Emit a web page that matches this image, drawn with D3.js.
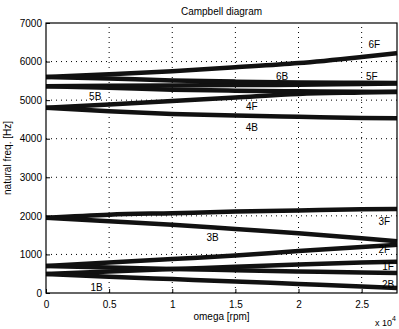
<!DOCTYPE html>
<html>
<head>
<meta charset="utf-8">
<script src="https://cdn.jsdelivr.net/npm/d3@7"></script>
<style>
  body { margin: 0; background: #fff; }
  svg { display: block; font-family: "Liberation Sans", Arial, sans-serif; }
  .grid line { stroke: #000; stroke-dasharray: 1,4; stroke-width: 1; }
  .tick text { font-size: 10px; fill: #000; }
</style>
</head>
<body>
<div id="chart"></div>
<script>
// rotor speed samples [rpm]
const omega = [0, 5000, 10000, 15000, 20000, 25000, 27800];

// natural frequencies per whirl mode [Hz]
const mode1F = [490, 560, 620, 680, 740, 790, 810];
const mode1B = [700, 660, 620, 590, 560, 530, 520];
const mode2F = [700, 790, 880, 970, 1090, 1190, 1250];
const mode2B = [490, 420, 360, 300, 235, 170, 130];
const mode3F = [1950, 2030, 2070, 2110, 2140, 2170, 2180];
const mode3B = [1950, 1860, 1770, 1660, 1550, 1420, 1340];
const mode4F = [4800, 4890, 4980, 5070, 5160, 5200, 5220];
const mode4B = [4800, 4710, 4640, 4600, 4570, 4540, 4530];
const mode5F = [5360, 5370, 5380, 5390, 5400, 5420, 5430];
const mode5B = [5360, 5320, 5270, 5245, 5230, 5215, 5210];
const mode6F = [5600, 5670, 5750, 5850, 5960, 6120, 6220];
const mode6B = [5600, 5560, 5510, 5480, 5460, 5450, 5445];

const series = [mode1F, mode1B, mode2F, mode2B, mode3F, mode3B,
                mode4F, mode4B, mode5F, mode5B, mode6F, mode6B];

// curve labels: text, omega, freq
const labelText = ["6F", "6B", "5F", "5B", "4F", "4B", "3F", "3B", "2F", "1F", "2B", "1B"];
const labelX = [26000, 18700, 25800, 3900, 16300, 16300, 26800, 13200, 26800, 27100, 27100, 4000];
const labelY = [6420, 5600, 5600, 5080, 4820, 4270, 1840, 1420, 1110, 670, 200, 130];

const xTicks = [0, 5000, 10000, 15000, 20000, 25000];
const yTicks = [0, 1000, 2000, 3000, 4000, 5000, 6000, 7000];

const width = 399, height = 329;
const margin = { top: 23, right: 2, bottom: 36, left: 46 };

const svg = d3.select("#chart").append("svg")
  .attr("width", width)
  .attr("height", height);

const x = d3.scaleLinear().domain([0, 27800]).range([margin.left, width - margin.right]);
const y = d3.scaleLinear().domain([0, 7000]).range([height - margin.bottom, margin.top]);

// dotted grid
const grid = svg.append("g").attr("class", "grid");
grid.selectAll(".gx").data(xTicks.slice(1)).enter().append("line")
  .attr("x1", d => x(d)).attr("x2", d => x(d))
  .attr("y1", y(0)).attr("y2", y(7000));
grid.selectAll(".gy").data(yTicks.slice(1, -1)).enter().append("line")
  .attr("x1", x(0)).attr("x2", x(27800))
  .attr("y1", d => y(d)).attr("y2", d => y(d));

// curves
const line = d3.line()
  .x((d, i) => x(omega[i]))
  .y(d => y(d))
  .curve(d3.curveMonotoneX);

svg.append("g").selectAll("path").data(series).enter().append("path")
  .attr("d", line)
  .attr("fill", "none")
  .attr("stroke", "#111")
  .attr("stroke-width", 4.5);

// axes (MATLAB style, ticks inside)
svg.append("g")
  .attr("transform", `translate(0,${y(0)})`)
  .call(d3.axisBottom(x).tickValues(xTicks).tickSize(-4).tickPadding(8)
    .tickFormat(d => d / 10000))
  .call(g => g.select(".domain").remove());
svg.append("g")
  .attr("transform", `translate(${x(0)},0)`)
  .call(d3.axisLeft(y).tickValues(yTicks).tickSize(-4).tickPadding(4)
    .tickFormat(d3.format("d")))
  .call(g => g.select(".domain").remove());

svg.append("rect")
  .attr("x", x(0)).attr("y", y(7000))
  .attr("width", x(27800) - x(0)).attr("height", y(0) - y(7000))
  .attr("fill", "none").attr("stroke", "#000").attr("stroke-width", 1.2);

// curve labels
svg.append("g").selectAll("text").data(labelText).enter().append("text")
  .attr("x", (d, i) => x(labelX[i]))
  .attr("y", (d, i) => y(labelY[i]))
  .attr("text-anchor", "middle")
  .attr("dominant-baseline", "middle")
  .attr("font-size", 10)
  .attr("fill", "#000")
  .text(d => d);

// titles
svg.append("text")
  .attr("x", (x(0) + x(27800)) / 2).attr("y", 15)
  .attr("text-anchor", "middle").attr("font-size", 10)
  .text("Campbell diagram");
svg.append("text")
  .attr("x", (x(0) + x(27800)) / 2).attr("y", 320)
  .attr("text-anchor", "middle").attr("font-size", 10)
  .text("omega [rpm]");
svg.append("text")
  .attr("transform", `translate(11,${(y(0) + y(7000)) / 2}) rotate(-90)`)
  .attr("text-anchor", "middle").attr("font-size", 10)
  .text("natural freq. [Hz]");
const expo = svg.append("text")
  .attr("x", 396).attr("y", 326)
  .attr("text-anchor", "end").attr("font-size", 9);
expo.append("tspan").text("x 10");
expo.append("tspan").attr("dy", -5).attr("font-size", 7).text("4");
</script>
</body>
</html>
